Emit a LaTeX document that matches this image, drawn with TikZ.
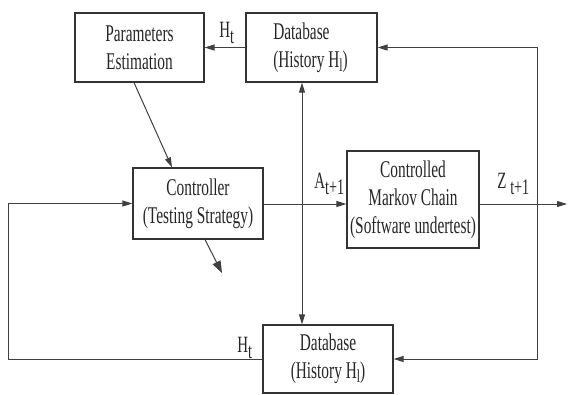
\documentclass[tikz,border=0pt]{standalone}
\usepackage{fontspec}
\setmainfont[FakeStretch=0.64]{Liberation Serif}
\usetikzlibrary{arrows.meta}
% lowered index written in the text font
\newcommand\lowsub[2][-5pt]{\raisebox{#1}{\scalebox{0.95}{#2}}}
\begin{document}
\begin{tikzpicture}[x=0.75pt,y=-0.75pt,
  box/.style={draw=black!80, line width=0.9pt, inner sep=0pt, align=center,
    text=black!85, font=\fontsize{18}{21}\selectfont},
  txt/.style={inner sep=0pt, text=black!85, font=\fontsize{18}{21}\selectfont},
  wire/.style={draw=black!75, line width=0.75pt},
  tip/.style={-{Triangle[length=7.5pt,width=4.5pt]}},
  bigtip/.style={-{Triangle[length=9pt,width=6.5pt]}},
  lbl/.style={inner sep=0pt, anchor=base west, text=black!85,
    font=\fontsize{17.5}{17.5}\selectfont}]
\useasboundingbox (0,0) rectangle (570,394);

% blocks
\node[box, minimum width=96.75pt, minimum height=51.75pt] (par) at (139.5,47.5)
  {Parameters\\Estimation};
\node[box, minimum width=98.25pt, minimum height=51.75pt] (dbtop) at (311.5,47.5) {};
\node[txt, anchor=west, align=left] (dbtoptext) at (273,47.5)
  {Database\\(History H\lowsub[-3pt]{\scalebox{0.8}{l}})};
\node[box, minimum width=97.5pt, minimum height=53.25pt] (ctrl) at (198,203.5)
  {Controller\\(Testing Strategy)};
\node[box, minimum width=99pt, minimum height=72.75pt] (mc) at (413,199.5)
  {Controlled\\Markov Chain\\(Software undertest)};
\node[box, minimum width=97.5pt, minimum height=51pt] (dbbot) at (328,359)
  {Database\\(History H\lowsub[-3pt]{\scalebox{0.8}{l}})};

% helper coordinates for wire routing
\coordinate (vx) at (302,0);
\coordinate (ay) at (0,204);
\coordinate (rx) at (537,0);
\coordinate (lx) at (8,0);
\coordinate (ps) at (134,0);
\coordinate (ct) at (172,0);
\coordinate (cs) at (205,0);
\coordinate (dang) at (222,273);
\coordinate (out) at (567,204);

% wires
\draw[wire, tip] (dbtop.west) -- (par.east);
\draw[wire, {Triangle[length=7.5pt,width=4.5pt]}-{Triangle[length=7.5pt,width=4.5pt]}]
  (dbtop.south -| vx) -- (dbbot.north -| vx);
\draw[wire, tip] (par.south -| ps) -- (ctrl.north -| ct);
\draw[wire, bigtip] (ctrl.south -| cs) -- (dang);
\draw[wire, tip] (ctrl.east |- ay) -- (mc.west |- ay);
\draw[wire, tip] (mc.east |- ay) -- (out);
\draw[wire, tip] (rx |- ay) -- (rx |- dbtop.east) -- (dbtop.east);
\draw[wire, tip] (rx |- ay) -- (rx |- dbbot.east) -- (dbbot.east);
\draw[wire, tip] (dbbot.west) -- (lx |- dbbot.west) -- (lx |- ctrl.west) -- (ctrl.west);

% signal labels
\node[lbl] (ht1) at (219,37) {H\lowsub{t}};
\node[lbl] (at1) at (314,188) {A\lowsub{t+1}};
\node[lbl] (zt1) at (497,188) {Z\,\lowsub{t+1}};
\node[lbl] (ht2) at (237,352) {H\lowsub{t}};
\end{tikzpicture}
\end{document}
